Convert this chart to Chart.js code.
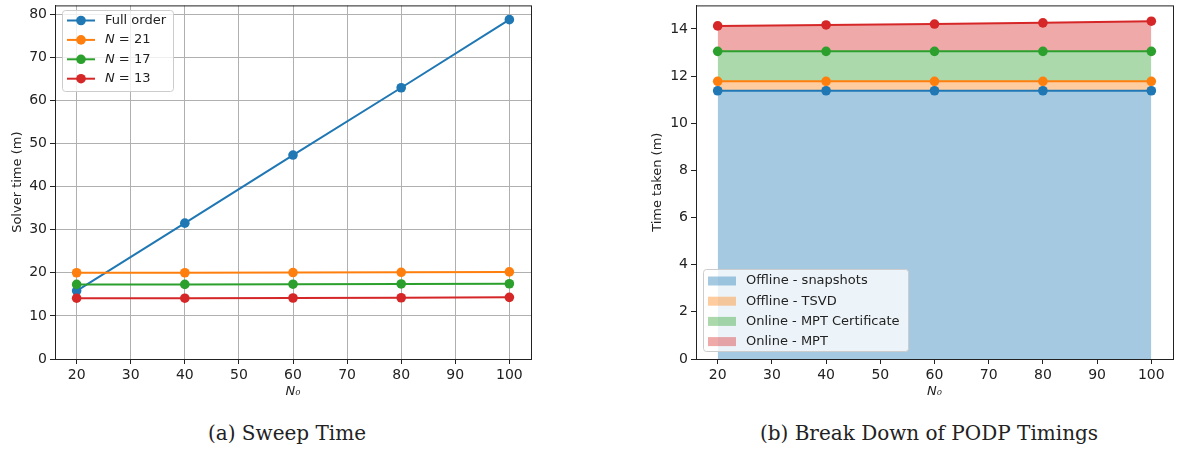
<!DOCTYPE html>
<html>
<head>
<meta charset="utf-8">
<script src="https://cdn.jsdelivr.net/npm/chart.js@4.4.1/dist/chart.umd.min.js"></script>
<style>
  html, body { margin: 0; padding: 0; background: #fff; }
  body { width: 1178px; height: 452px; position: relative; overflow: hidden; }
  .box { position: absolute; top: -6px; height: 408px; }
  #boxA { left: 0; width: 540px; }
  #boxB { left: 640px; width: 538px; }
  .caption {
    position: absolute; top: 421px; font-family: "DejaVu Serif", serif; font-size: 20px;
    color: #222; transform: translateX(-50%); white-space: nowrap;
  }
</style>
</head>
<body>
<div class="box" id="boxA"><canvas id="sweepChart"></canvas></div>
<div class="box" id="boxB"><canvas id="podpChart"></canvas></div>
<div class="caption" style="left:287px">(a) Sweep Time</div>
<div class="caption" style="left:929px">(b) Break Down of PODP Timings</div>
<script>
// N0 values on the x axis
const nValues = [20, 40, 60, 80, 100];
const xTicks = [20, 30, 40, 50, 60, 70, 80, 90, 100];

// (a) solver time, minutes
const sweepLabels = ['Full order', 'N = 21', 'N = 17', 'N = 13'];
const fullOrder = [15.8, 31.5, 47.3, 62.9, 78.7];
const n21 = [20.0, 20.0, 20.05, 20.1, 20.2];
const n17 = [17.3, 17.3, 17.35, 17.4, 17.45];
const n13 = [14.1, 14.1, 14.15, 14.2, 14.3];
const sweepTicks = [0, 10, 20, 30, 40, 50, 60, 70, 80];

// (b) stacked time breakdown, minutes (each part on top of the previous)
const podpLabels = ['Offline - snapshots', 'Offline - TSVD', 'Online - MPT Certificate', 'Online - MPT'];
const offlineSnapshots = [11.38, 11.38, 11.38, 11.38, 11.38];
const offlineTsvd = [0.40, 0.40, 0.40, 0.40, 0.40];
const onlineCertificate = [1.27, 1.27, 1.27, 1.27, 1.27];
const onlineMpt = [1.08, 1.12, 1.16, 1.21, 1.28];
const podpTicks = [0, 2, 4, 6, 8, 10, 12, 14];

const colors = ['#1f77b4', '#ff7f0e', '#2ca02c', '#d62728'];
const fills = ['rgba(31,119,180,0.4)', 'rgba(255,127,14,0.4)', 'rgba(44,160,44,0.4)', 'rgba(214,39,40,0.4)'];

const FONT = 'DejaVu Sans';
Chart.defaults.font.family = FONT;
Chart.defaults.font.size = 13;
Chart.defaults.color = '#222';

const TOP = 6; // boxes are shifted up by this much

function pts(ys) {
  return nValues.map((x, i) => ({ x: x, y: ys[i] }));
}

// box round the plot area, like matplotlib spines
const frame = {
  id: 'frame',
  afterDatasetsDraw(chart) {
    const a = chart.chartArea, ctx = chart.ctx;
    ctx.save();
    ctx.strokeStyle = '#222';
    ctx.lineWidth = 1;
    ctx.strokeRect(a.left + 0.5, a.top + 0.5, a.right - a.left, a.bottom - a.top);
    ctx.restore();
  }
};

function drawLabel(ctx, text, x, y) {
  // italic N for the math labels
  if (text.startsWith('N =')) {
    ctx.font = 'italic 13px ' + FONT;
    ctx.fillText('N', x, y);
    const w = ctx.measureText('N').width;
    ctx.font = '13px ' + FONT;
    ctx.fillText(' = ' + text.slice(4), x + w, y);
  } else {
    ctx.font = '13px ' + FONT;
    ctx.fillText(text, x, y);
  }
}

function legendBox(ctx, x, y, w, h) {
  ctx.beginPath();
  ctx.roundRect(x + 0.5, y + 0.5, w, h, 3);
  ctx.fillStyle = 'rgba(255,255,255,0.8)';
  ctx.fill();
  ctx.strokeStyle = '#cccccc';
  ctx.lineWidth = 1;
  ctx.stroke();
}

const lineLegend = {
  id: 'lineLegend',
  afterDraw(chart) {
    const ctx = chart.ctx;
    ctx.save();
    legendBox(ctx, 62, 10 + TOP, 111, 81);
    chart.data.datasets.forEach((ds, i) => {
      const y = 20.5 + TOP + i * 19.4;
      ctx.strokeStyle = ds.borderColor;
      ctx.lineWidth = 2;
      ctx.beginPath();
      ctx.moveTo(67, y);
      ctx.lineTo(95, y);
      ctx.stroke();
      ctx.fillStyle = ds.borderColor;
      ctx.beginPath();
      ctx.arc(81, y, 4.8, 0, Math.PI * 2);
      ctx.fill();
      ctx.fillStyle = '#222';
      ctx.textBaseline = 'middle';
      drawLabel(ctx, ds.label, 105, y);
    });
    ctx.restore();
  }
};

const areaLegend = {
  id: 'areaLegend',
  afterDraw(chart) {
    const ctx = chart.ctx;
    const ox = -640; // canvas starts at x=640
    ctx.save();
    legendBox(ctx, 703 + ox, 269 + TOP, 205, 82);
    chart.data.datasets.forEach((ds, i) => {
      const y = 281 + TOP + i * 20.2;
      ctx.fillStyle = ds.backgroundColor;
      ctx.fillRect(708 + ox, y - 4.5, 28, 9);
      ctx.fillStyle = '#222';
      ctx.textBaseline = 'middle';
      drawLabel(ctx, ds.label, 746 + ox, y);
    });
    ctx.restore();
  }
};

function xScale() {
  return {
    type: 'linear',
    min: 16,
    max: 104,
    afterBuildTicks: s => { s.ticks = xTicks.map(v => ({ value: v })); },
    afterFit: s => { s.height = 43; },
    border: { color: '#222', width: 1 },
    ticks: { padding: 3, color: '#222', font: { size: 14 } },
    title: { display: true, text: 'N₀', font: { style: 'italic', size: 13 }, padding: { top: 2, bottom: 3 } }
  };
}

new Chart(document.getElementById('sweepChart'), {
  type: 'line',
  data: {
    datasets: [fullOrder, n21, n17, n13].map((ys, i) => ({
      label: sweepLabels[i],
      data: pts(ys),
      borderColor: colors[i],
      backgroundColor: colors[i],
      borderWidth: 2,
      pointRadius: 4.8,
      pointBorderWidth: 0,
      tension: 0,
      order: -i
    }))
  },
  options: {
    responsive: true,
    maintainAspectRatio: false,
    animation: false,
    layout: { padding: { top: 5, right: 9, left: 0, bottom: 0 } },
    plugins: { legend: { display: false }, tooltip: { enabled: false } },
    scales: {
      x: Object.assign(xScale(), {
        grid: { color: '#b0b0b0', lineWidth: 1, tickColor: '#222', tickLength: 5 }
      }),
      y: {
        min: 0,
        max: 82,
        afterBuildTicks: s => { s.ticks = sweepTicks.map(v => ({ value: v })); },
        afterFit: s => { s.width = 55; },
        border: { color: '#222', width: 1 },
        grid: { color: '#b0b0b0', lineWidth: 1, tickColor: '#222', tickLength: 5 },
        ticks: { padding: 3, color: '#222', font: { size: 14 } },
        title: { display: true, text: 'Solver time (m)', padding: { top: 10, bottom: 0 } }
      }
    }
  },
  plugins: [frame, lineLegend]
});

new Chart(document.getElementById('podpChart'), {
  type: 'line',
  data: {
    datasets: [offlineSnapshots, offlineTsvd, onlineCertificate, onlineMpt].map((ys, i) => ({
      label: podpLabels[i],
      data: pts(ys),
      borderColor: colors[i],
      backgroundColor: fills[i],
      pointBackgroundColor: colors[i],
      borderWidth: 2,
      pointRadius: 4.8,
      pointBorderWidth: 0,
      tension: 0,
      fill: i === 0 ? 'origin' : '-1'
    }))
  },
  options: {
    responsive: true,
    maintainAspectRatio: false,
    animation: false,
    layout: { padding: { top: 5, right: 5, left: 0, bottom: 0 } },
    plugins: {
      legend: { display: false },
      tooltip: { enabled: false },
      filler: { drawTime: 'beforeDatasetsDraw' }
    },
    scales: {
      x: Object.assign(xScale(), {
        grid: { drawOnChartArea: false, tickColor: '#222', tickLength: 5 }
      }),
      y: {
        stacked: true,
        min: 0,
        max: 15,
        afterBuildTicks: s => { s.ticks = podpTicks.map(v => ({ value: v })); },
        afterFit: s => { s.width = 56; },
        border: { color: '#222', width: 1 },
        grid: { drawOnChartArea: false, tickColor: '#222', tickLength: 5 },
        ticks: { padding: 3, color: '#222', font: { size: 14 } },
        title: { display: true, text: 'Time taken (m)', padding: { top: 10, bottom: 0 } }
      }
    }
  },
  plugins: [frame, areaLegend]
});
</script>
</body>
</html>
